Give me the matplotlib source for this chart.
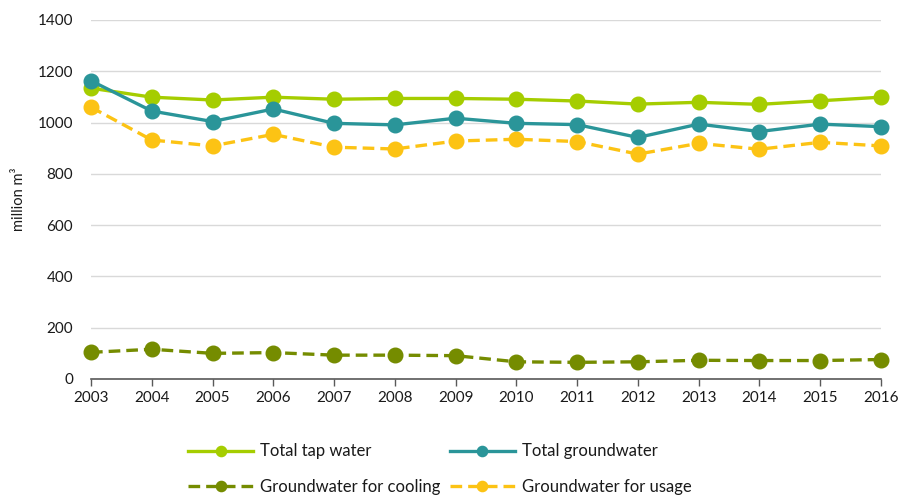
import matplotlib
matplotlib.use("Agg")
import matplotlib.pyplot as plt

years = list(range(2003, 2017))
tap_water = [1134, 1099, 1088, 1099, 1091, 1094, 1094, 1091, 1084, 1072, 1079, 1071, 1085, 1099]
groundwater = [1163, 1045, 1004, 1053, 997, 991, 1017, 997, 992, 942, 994, 965, 994, 984]
gw_cooling = [104, 116, 100, 103, 93, 93, 91, 67, 65, 67, 73, 72, 72, 76]
gw_usage = [1060, 932, 909, 954, 904, 897, 928, 935, 926, 877, 919, 896, 923, 909]
yticks = [0, 200, 400, 600, 800, 1000, 1200, 1400]

TXT = "#1a1a1a"
C_TAP = "#A5CD00"; C_GW = "#2A9599"; C_COOL = "#758C00"; C_USE = "#FCC314"
DASH = (0, (3.5, 1.8))

plt.rcParams["font.family"] = ["Lato", "DejaVu Sans"]

fig = plt.figure(figsize=(9.01, 4.97), dpi=100)
ax = fig.add_axes([91/901, 1 - 379/497, 790/901, 359/497])

ms = 10.5; lw = 2.4
l_tap, = ax.plot(years, tap_water, color=C_TAP, lw=lw, marker="o", ms=ms, label="Total tap water", zorder=3)
l_gw, = ax.plot(years, groundwater, color=C_GW, lw=lw, marker="o", ms=ms, label="Total groundwater", zorder=4)
l_cool, = ax.plot(years, gw_cooling, color=C_COOL, lw=lw, ls=DASH, marker="o", ms=ms,
                  label="Groundwater for cooling", zorder=3)
l_use, = ax.plot(years, gw_usage, color=C_USE, lw=lw, ls=DASH, marker="o", ms=ms,
                 label="Groundwater for usage", zorder=3)

ax.set_xlim(2003, 2016)
ax.set_ylim(0, 1400)
ax.set_xticks(years)
ax.set_yticks(yticks)
ax.set_xticklabels([str(y) for y in years], fontsize=11, color=TXT)
ax.set_yticklabels([str(v) for v in yticks], fontsize=11, color=TXT)
ax.tick_params(axis="y", length=0, pad=13)
ax.tick_params(axis="x", length=5, width=1, color="#595959", pad=4, direction="out")
ax.grid(axis="y", color="#d9d9d9", lw=1)
ax.set_axisbelow(True)
for s in ["top", "right", "left"]:
    ax.spines[s].set_visible(False)
ax.spines["bottom"].set_color("#595959")
ax.spines["bottom"].set_linewidth(1.2)
ax.spines["bottom"].set_zorder(2)
for l in [l_tap, l_gw, l_cool, l_use]:
    l.set_clip_on(False)

ax.set_ylabel("million m³", fontsize=10.5, color=TXT)
ax.yaxis.set_label_coords(-0.082, 0.5)

fig.legend(handles=[l_tap, l_cool, l_gw, l_use], ncol=2, loc="center",
           bbox_to_anchor=(440/901, 1 - 469/497), frameon=False, fontsize=12,
           handlelength=3.9, handletextpad=0.42, columnspacing=0.55,
           labelspacing=1.15, markerscale=0.7, labelcolor=TXT)

fig.savefig("out.png", dpi=100, facecolor="white")
